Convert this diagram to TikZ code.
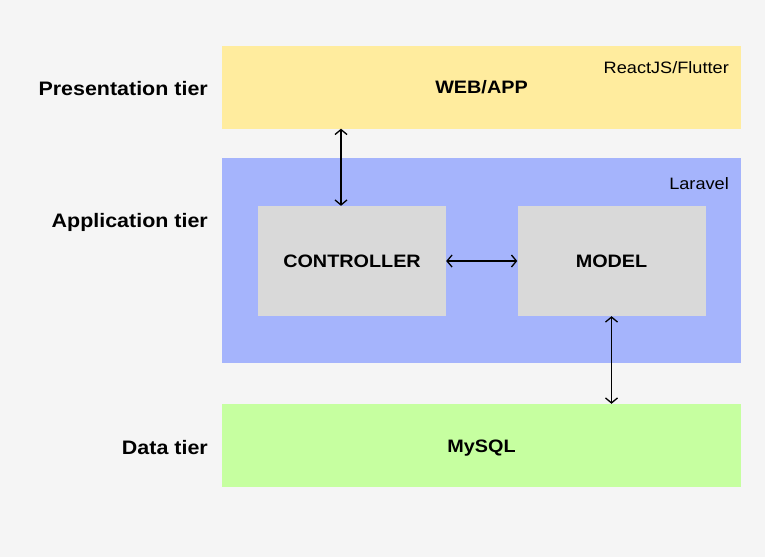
\documentclass[tikz,border=0pt]{standalone}
\usepackage{fontspec}
\setmainfont{Liberation Sans}[FakeStretch=1.1]
\usetikzlibrary{arrows.meta}
\definecolor{bgcol}{HTML}{F5F5F5}
\definecolor{webcol}{HTML}{FFEC9E}
\definecolor{appcol}{HTML}{A5B4FC}
\definecolor{datacol}{HTML}{C6FFA0}
\definecolor{boxcol}{HTML}{D9D9D9}

\begin{document}
\begin{tikzpicture}
[x=1pt,y=-1pt,%
  tier/.style={minimum width=519pt,text height=13pt,text depth=0pt,font=\fontsize{18}{22}\bfseries},%
  block/.style={fill=boxcol,minimum width=188pt,minimum height=110pt,text height=13pt,text depth=0pt,font=\fontsize{18}{22}\bfseries},%
  tiername/.style={anchor=base east,inner sep=0pt,font=\fontsize{19.5}{23}\bfseries},%
  tool/.style={anchor=base east,inner sep=0pt,font=\fontsize{16.5}{20}\selectfont},%
  link/.style={{Straight Barb[length=5pt,width=12pt]}-{Straight Barb[length=5pt,width=12pt]},line width=1.3pt}]
\fill[bgcol] (0,0) rectangle (765,557);
\useasboundingbox (0,0) rectangle (765,557);
% tiers
\node[tier,fill=webcol,minimum height=83pt] (web) at (481.5,87) {WEB/APP};
\node[tier,fill=appcol,minimum height=205pt] (app) at (481.5,260.5) {};
\node[tier,fill=datacol,minimum height=83pt] (data) at (481.5,445.5) {MySQL};
\node[block] (ctrl) at (352,261) {CONTROLLER};
\node[block] (model) at (611.5,261) {MODEL};
\node[tool] (react) at (729,73) {ReactJS/Flutter};
\node[tool] (laravel) at (729,189) {Laravel};
% names
\node[tiername] (pres) at (208,95) {Presentation tier};
\node[tiername] (appname) at (208,227) {Application tier};
\node[tiername] (dataname) at (208,454) {Data tier};
% links
\draw[link] ([xshift=-11pt]ctrl.north |- web.south) -- ([xshift=-11pt]ctrl.north);
\draw[link] (ctrl.east) -- (model.west);
\draw[link] (model.south) -- (model.south |- data.north);
\end{tikzpicture}
\end{document}
